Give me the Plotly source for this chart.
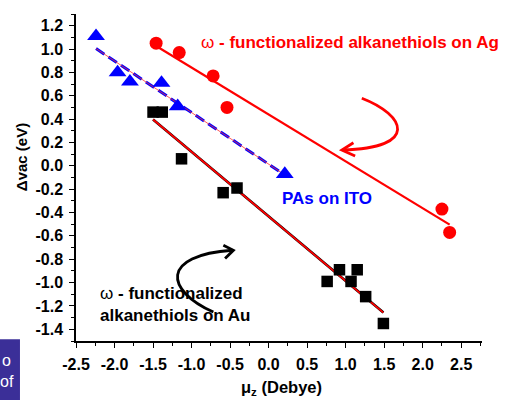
import numpy as np
import plotly.graph_objects as go

# ---- data ----
pas_x = [-2.24, -1.96, -1.80, -1.39, -1.18, 0.21]
pas_y = [1.11, 0.80, 0.72, 0.71, 0.51, -0.07]
ag_x = [-1.46, -1.16, -0.72, -0.54, 2.25, 2.35]
ag_y = [1.05, 0.97, 0.77, 0.50, -0.37, -0.57]
au_x = [-1.50, -1.38, -1.13, -0.59, -0.41, 0.76, 0.92, 1.07, 1.15, 1.26, 1.49]
au_y = [0.46, 0.46, 0.06, -0.23, -0.19, -0.99, -0.89, -0.99, -0.89, -1.12, -1.35]

x_tick_vals = [-2.5, -2.0, -1.5, -1.0, -0.5, 0.0, 0.5, 1.0, 1.5, 2.0, 2.5]
x_tick_text = ["-2.5", "-2.0", "-1.5", "-1.0", "-0.5", "0.0", "0.5", "1.0", "1.5", "2.0", "2.5"]
y_tick_vals = [-1.4, -1.2, -1.0, -0.8, -0.6, -0.4, -0.2, 0.0, 0.2, 0.4, 0.6, 0.8, 1.0, 1.2]
y_tick_text = ["-1.4", "-1.2", "-1.0", "-0.8", "-0.6", "-0.4", "-0.2", "0.0",
               "0.2", "0.4", "0.6", "0.8", "1.0", "1.2"]

FONT = "Liberation Sans, Arial, sans-serif"


def fit_line(xs, ys):
    k, b = np.polyfit(xs, ys, 1)
    x0, x1 = min(xs), max(xs)
    return [x0, x1], [k * x0 + b, k * x1 + b]


fig = go.Figure()

# fit lines
bx, by = fit_line(pas_x, pas_y)
fig.add_trace(go.Scatter(x=bx, y=by, mode="lines",
                         line=dict(color="#0000ff", width=3, dash="10px,5px"),
                         showlegend=False, hoverinfo="skip"))
fig.add_trace(go.Scatter(x=bx, y=by, mode="lines",
                         line=dict(color="#ff3030", width=0.8),
                         showlegend=False, hoverinfo="skip"))

rx, ry = fit_line(ag_x, ag_y)
fig.add_trace(go.Scatter(x=rx, y=ry, mode="lines",
                         line=dict(color="#ff0000", width=2.2),
                         showlegend=False, hoverinfo="skip"))

kx, ky = fit_line(au_x, au_y)
fig.add_trace(go.Scatter(x=kx, y=ky, mode="lines",
                         line=dict(color="#000000", width=2.6),
                         showlegend=False, hoverinfo="skip"))
fig.add_trace(go.Scatter(x=kx, y=ky, mode="lines",
                         line=dict(color="#ff0000", width=1.8),
                         showlegend=False, hoverinfo="skip"))

# markers
fig.add_trace(go.Scatter(x=pas_x, y=pas_y, mode="markers", name="PAs on ITO",
                         marker=dict(symbol="triangle-up", size=15.5, color="#0000ff"),
                         showlegend=False))
fig.add_trace(go.Scatter(x=ag_x, y=ag_y, mode="markers", name="Ag",
                         marker=dict(symbol="circle", size=13, color="#ff0000"),
                         showlegend=False))
fig.add_trace(go.Scatter(x=au_x, y=au_y, mode="markers", name="Au",
                         marker=dict(symbol="square", size=11.5, color="#000000"),
                         showlegend=False))

# curved arrows with open heads (decorations)
fig.add_shape(type="path", xref="x", yref="y",
              path="M 1.210,0.579 C 1.773,0.436 1.968,0.153 0.960,0.136",
              line=dict(color="#ff0000", width=2.8))
fig.add_shape(type="path", xref="x", yref="y",
              path="M 1.101,0.198 L 0.951,0.136 L 1.123,0.084",
              line=dict(color="#ff0000", width=2.8))
fig.add_shape(type="path", xref="x", yref="y",
              path="M -0.717,-1.252 C -1.344,-1.066 -1.409,-0.766 -0.470,-0.723",
              line=dict(color="#000000", width=2.8))
fig.add_shape(type="path", xref="x", yref="y",
              path="M -0.587,-0.680 L -0.457,-0.723 L -0.565,-0.794",
              line=dict(color="#000000", width=2.8))

# blue box at lower left
fig.add_shape(type="rect", xref="paper", yref="paper",
              x0=-0.19, x1=-0.138, y0=0.005, y1=-0.19,
              fillcolor="#3b2f98", line=dict(width=0), layer="above")

annotations = [
    dict(x=-0.90, y=1.054, xref="x", yref="y", xanchor="left", yanchor="middle",
         text="ω <b>- functionalized alkanethiols on Ag</b>", showarrow=False,
         font=dict(family=FONT, size=17, color="#ff0000")),
    dict(x=0.15, y=-0.276, xref="x", yref="y", xanchor="left", yanchor="middle",
         text="<b>PAs on ITO</b>", showarrow=False,
         font=dict(family=FONT, size=17, color="#0000ff")),
    dict(x=-2.21, y=-1.186, xref="x", yref="y", xanchor="left", yanchor="middle",
         align="left",
         text="ω <b>- functionalized</b><br><b>alkanethiols on Au</b>", showarrow=False,
         font=dict(family=FONT, size=17, color="#000000")),
    dict(x=-0.134, y=0.561, xref="paper", yref="paper", xanchor="center", yanchor="middle",
         text="<b>Δvac (eV)</b>", textangle=-90, showarrow=False,
         font=dict(family=FONT, size=15, color="#000000")),
    dict(x=0.507, y=-0.143, xref="paper", yref="paper", xanchor="center", yanchor="middle",
         text="<b>μ<sub>z</sub> (Debye)</b>", showarrow=False,
         font=dict(family=FONT, size=16.5, color="#000000")),
    dict(x=-0.155, y=-0.06, xref="paper", yref="paper", xanchor="right", yanchor="middle",
         text="o", showarrow=False, font=dict(family=FONT, size=16, color="#ffffff")),
    dict(x=-0.148, y=-0.125, xref="paper", yref="paper", xanchor="right", yanchor="middle",
         text="of", showarrow=False, font=dict(family=FONT, size=16, color="#ffffff")),
]

fig.update_layout(
    width=509, height=400,
    margin=dict(l=76, r=27, t=14, b=59),
    paper_bgcolor="white", plot_bgcolor="white",
    showlegend=False,
    font=dict(family=FONT, color="#000000"),
    annotations=annotations,
    xaxis=dict(range=[-2.5, 2.77], showgrid=False, zeroline=False,
               showline=True, linecolor="#000000", linewidth=1.5,
               tickmode="array", tickvals=x_tick_vals, ticktext=x_tick_text,
               ticks="outside", ticklen=5, tickwidth=1.3, tickcolor="#000000",
               ticklabelstandoff=3,
               tickfont=dict(family=FONT, size=16, color="#000000", weight="bold"),
               minor=dict(dtick=0.25, tick0=0, ticks="outside", ticklen=3,
                          tickwidth=1.1, tickcolor="#000000", showgrid=False)),
    yaxis=dict(range=[-1.5, 1.3], showgrid=False, zeroline=False,
               showline=True, linecolor="#000000", linewidth=1.5,
               tickmode="array", tickvals=y_tick_vals, ticktext=y_tick_text,
               ticks="outside", ticklen=5, tickwidth=1.3, tickcolor="#000000",
               ticklabelstandoff=3,
               tickfont=dict(family=FONT, size=16, color="#000000", weight="bold"),
               minor=dict(dtick=0.1, tick0=0, ticks="outside", ticklen=3,
                          tickwidth=1.1, tickcolor="#000000", showgrid=False)),
)

fig.write_html("out.html",
               config={"displayModeBar": False},
               post_script="document.body.style.margin='0px';document.body.style.overflow='hidden';")
